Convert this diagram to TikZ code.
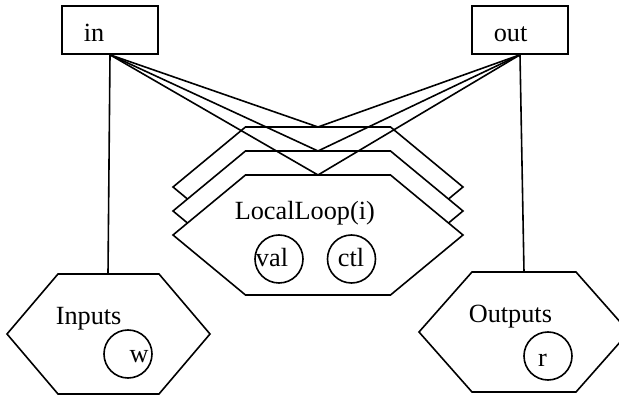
\documentclass[tikz,border=0pt]{standalone}
\usepackage{fontspec}
\setmainfont{Liberation Serif}
% hexagon: centre (#1,#2), half-width #3, half-width of top/bottom edge #4, half-height #5
\newcommand\hexshape[5]{({#1-#3},{#2}) -- ({#1-#4},{#2-#5}) -- ({#1+#4},{#2-#5}) -- ({#1+#3},{#2}) -- ({#1+#4},{#2+#5}) -- ({#1-#4},{#2+#5}) -- cycle}
\begin{document}
\begin{tikzpicture}[x=0.75pt,y=-0.75pt,line width=1.2pt,
  every node/.style={font=\fontsize{19.7}{23}\selectfont},
  portbox/.style={draw,minimum width=72pt,minimum height=36pt,inner sep=0pt},
  hexbox/.style={draw,fill=white,line join=miter},
  token/.style={draw,circle,minimum size=36pt,inner sep=0pt},
  label/.style={anchor=base west,inner sep=0pt},
  tokentext/.style={anchor=base,inner sep=0pt},
  link/.style={draw}]
\clip (0,0) rectangle (619,399);

% boxes on top
\node[portbox] (in) at (110,30) {};
\node[label] (inlbl) at (83,42) {in};
\node[portbox] (out) at (520,30) {};
\node[label] (outlbl) at (493,42) {out};

% stacked LocalLoop hexagons, back to front
\path[hexbox] \hexshape{318}{187}{145}{72.5}{60};
\path[hexbox] \hexshape{318}{211}{145}{72.5}{60};
\path[hexbox] \hexshape{318}{235}{145}{72.5}{60};
\coordinate (loopA) at (318,127);
\coordinate (loopB) at (318,151);
\coordinate (loopC) at (318,175);
\node[label] (looplbl) at (234,220) {LocalLoop(i)};
\node[token] (val) at (279,259) {};
\node[tokentext] (valtxt) at (272,267) {val};
\node[token] (ctl) at (351.5,259) {};
\node[tokentext] (ctltxt) at (351,267) {ctl};

% Inputs hexagon
\path[hexbox] \hexshape{108.5}{334}{101.5}{50.5}{60};
\coordinate (inputs) at (108,274);
\node[label] (inputslbl) at (55,325) {Inputs};
\node[token] (w) at (128,354) {};
\node[tokentext] (wtxt) at (139,363) {w};

% Outputs hexagon
\path[hexbox] \hexshape{524}{332}{105}{52}{60};
\coordinate (outputs) at (524,272);
\node[label] (outputslbl) at (468,323) {Outputs};
\node[token] (r) at (548,356) {};
\node[tokentext] (rtxt) at (542.5,367) {r};

% connectors
\draw[link] (in.south) -- (loopA);
\draw[link] (in.south) -- (loopB);
\draw[link] (in.south) -- (loopC);
\draw[link] (in.south) -- (inputs);
\draw[link] (out.south) -- (loopA);
\draw[link] (out.south) -- (loopB);
\draw[link] (out.south) -- (loopC);
\draw[link] (out.south) -- (outputs);
\end{tikzpicture}
\end{document}
